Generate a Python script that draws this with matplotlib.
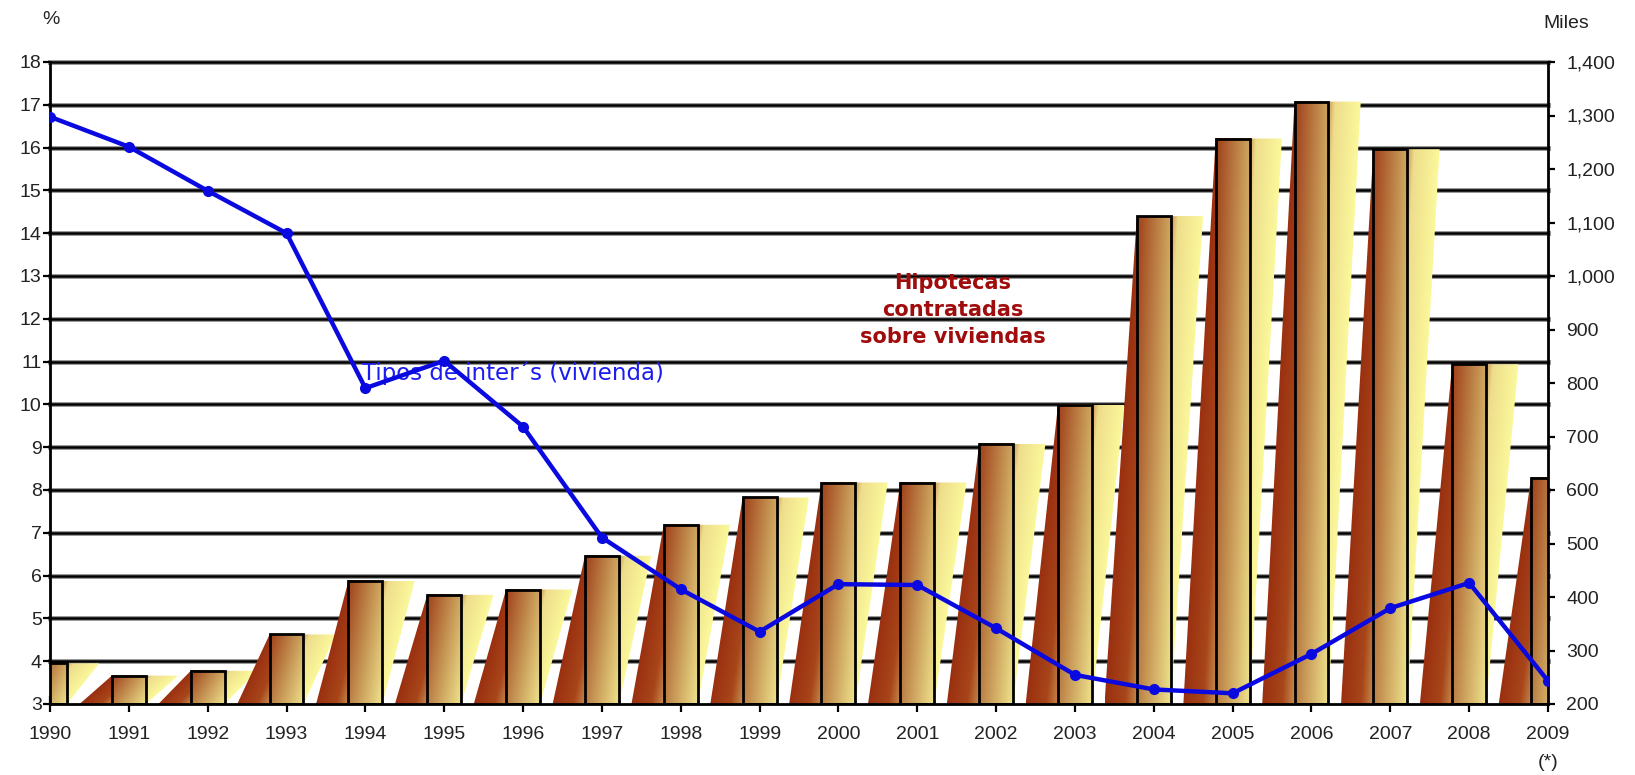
import numpy as np
import matplotlib
matplotlib.use("Agg")
import matplotlib.pyplot as plt
from matplotlib.colors import LinearSegmentedColormap
from matplotlib.patches import Polygon
from matplotlib.ticker import FuncFormatter

# ---- data -------------------------------------------------------------
years = list(range(1990, 2010))
year_labels = [str(y) for y in years[:-1]] + ["2009\n(*)"]
# mortgages signed on homes (thousands)
mortgages = [276, 253, 262, 330, 430, 404, 414, 477, 535, 586,
             614, 614, 686, 759, 1112, 1257, 1326, 1237, 835, 623]
# housing interest rate (%)
rates = [16.72, 16.02, 14.99, 14.00, 10.38, 11.02, 9.48, 6.89, 5.68, 4.69,
         5.80, 5.78, 4.77, 3.68, 3.34, 3.25, 4.17, 5.24, 5.83, 3.54]
pct_ticks = list(range(3, 19))
miles_ticks = list(range(200, 1401, 100))

rate_label = "Tipos de inter´s (vivienda)"
mortgage_label = "Hipotecas\ncontratadas\nsobre viviendas"

# ---- styling ----------------------------------------------------------
W, H = 1635, 775
BAR_W = 0.43      # bar width in years
SHEAR = 0.41      # horizontal offset of the slanted shading
TICK_FONT = "Liberation Sans"
TICK_COLOR = "#222222"

shade_cmap = LinearSegmentedColormap.from_list(
    "shade", [(0.0, "#9a3010"), (0.3, "#a8461a"), (0.5, "#c89352"),
              (0.62, "#eedd8c"), (1.0, "#fbf89b")])
face_cmap = LinearSegmentedColormap.from_list(
    "face", [(0.0, "#a0401a"), (0.45, "#c08a4c"), (1.0, "#eee28c")])

fig = plt.figure(figsize=(W / 100, H / 100), dpi=100)
ax = fig.add_axes([50 / W, 71 / H, 1498 / W, 642 / H])
ax.set_autoscale_on(False)
ax.set_xlim(years[0], years[-1])
ax.set_ylim(miles_ticks[0], miles_ticks[-1])

ax2 = ax.twinx()
ax2.set_ylim(pct_ticks[0], pct_ticks[-1])


def pct_to_miles(p):
    lo, hi = ax.get_ylim()
    plo, phi = ax2.get_ylim()
    return lo + (p - plo) * (hi - lo) / (phi - plo)


# horizontal grid at every percent step (drawn behind the bars)
for p in pct_ticks[1:]:
    y = pct_to_miles(p)
    ax.axhline(y, color="#9a9a9a", lw=3.6, zorder=0.4, clip_on=False)
    ax.axhline(y, color="black", lw=1.8, zorder=0.5, clip_on=False)

# ---- bars -------------------------------------------------------------
base = miles_ticks[0]
bars = ax.bar(years, np.subtract(mortgages, base), bottom=base, width=BAR_W,
              fill=False, edgecolor="black", linewidth=2, zorder=3)

for rect in bars:
    x0, w = rect.get_x(), rect.get_width()
    bot, top = rect.get_y(), rect.get_y() + rect.get_height()

    # slanted shading behind each bar
    xs = np.linspace(x0 - SHEAR, x0 + w + SHEAR, 90)
    ys = np.linspace(bot, top, 200)
    X, Y = np.meshgrid(xs, ys)
    f = (Y - bot) / (top - bot)
    xl = x0 - SHEAR * (1 - f)
    t = np.clip((X - xl) / (w + SHEAR), 0, 1)
    im = ax.imshow(t, extent=[xs[0], xs[-1], bot, top], origin="lower",
                   cmap=shade_cmap, vmin=0, vmax=1, aspect="auto",
                   interpolation="bilinear", zorder=1)
    verts = [(x0 - SHEAR, bot), (x0 + w, bot), (x0 + w + SHEAR, top), (x0, top)]
    im.set_clip_path(Polygon(verts, closed=True, transform=ax.transData))

    # gradient face of the bar
    xs = np.linspace(x0, x0 + w, 40)
    X, Y = np.meshgrid(xs, ys)
    t = 0.62 * (X - x0) / w + 0.38 * (top - Y) / (top - bot)
    ax.imshow(t, extent=[x0, x0 + w, bot, top], origin="lower",
              cmap=face_cmap, vmin=0, vmax=1, aspect="auto",
              interpolation="bilinear", zorder=2)

ax.set_xlim(years[0], years[-1])
ax.set_ylim(miles_ticks[0], miles_ticks[-1])

# ---- interest-rate line -----------------------------------------------
ax2.plot(years, rates, color="#0a0ae0", lw=3.2, marker="o", ms=7, zorder=5)
ax2.text(1993.96, 10.73, rate_label, color="#1c1cf0", fontsize=16.5,
         family="DejaVu Sans", ha="left", va="center", zorder=4)
ax2.text(2001.45, 12.2, mortgage_label, color="#a00c0c", fontsize=15,
         fontweight="bold", family="DejaVu Sans", ha="center", va="center",
         multialignment="center", linespacing=1.45, zorder=4)

# ---- axes -------------------------------------------------------------
for sp in ax2.spines.values():
    sp.set_visible(False)
ax.spines["top"].set_visible(False)
for s in ("left", "right", "bottom"):
    ax.spines[s].set_linewidth(2)
    ax.spines[s].set_color("black")
    ax.spines[s].set_zorder(6)

ax.set_xticks(years)
ax.set_xticklabels(year_labels, family=TICK_FONT, fontsize=14, color=TICK_COLOR,
                   linespacing=1.9)
ax.tick_params(axis="x", direction="inout", length=11, width=1.6, pad=10)

ax.yaxis.tick_right()
ax.set_yticks(miles_ticks)
ax.yaxis.set_major_formatter(FuncFormatter(lambda v, _: f"{int(v):,}"))
ax.tick_params(axis="y", direction="out", length=5, width=1.6, pad=8,
               labelsize=14, labelcolor=TICK_COLOR)

ax2.yaxis.tick_left()
ax2.set_yticks(pct_ticks)
ax2.tick_params(axis="y", direction="out", length=5, width=1.6, pad=1,
                labelsize=14, labelcolor=TICK_COLOR)
for lab in ax.get_yticklabels() + ax2.get_yticklabels():
    lab.set_family(TICK_FONT)

fig.text(51 / W, 1 - 20 / H, "%", ha="center", va="center", fontsize=14,
         family=TICK_FONT, color=TICK_COLOR)
fig.text(1566 / W, 1 - 23 / H, "Miles", ha="center", va="center", fontsize=14,
         family=TICK_FONT, color=TICK_COLOR)

fig.savefig("out.png", dpi=100, facecolor="white")
